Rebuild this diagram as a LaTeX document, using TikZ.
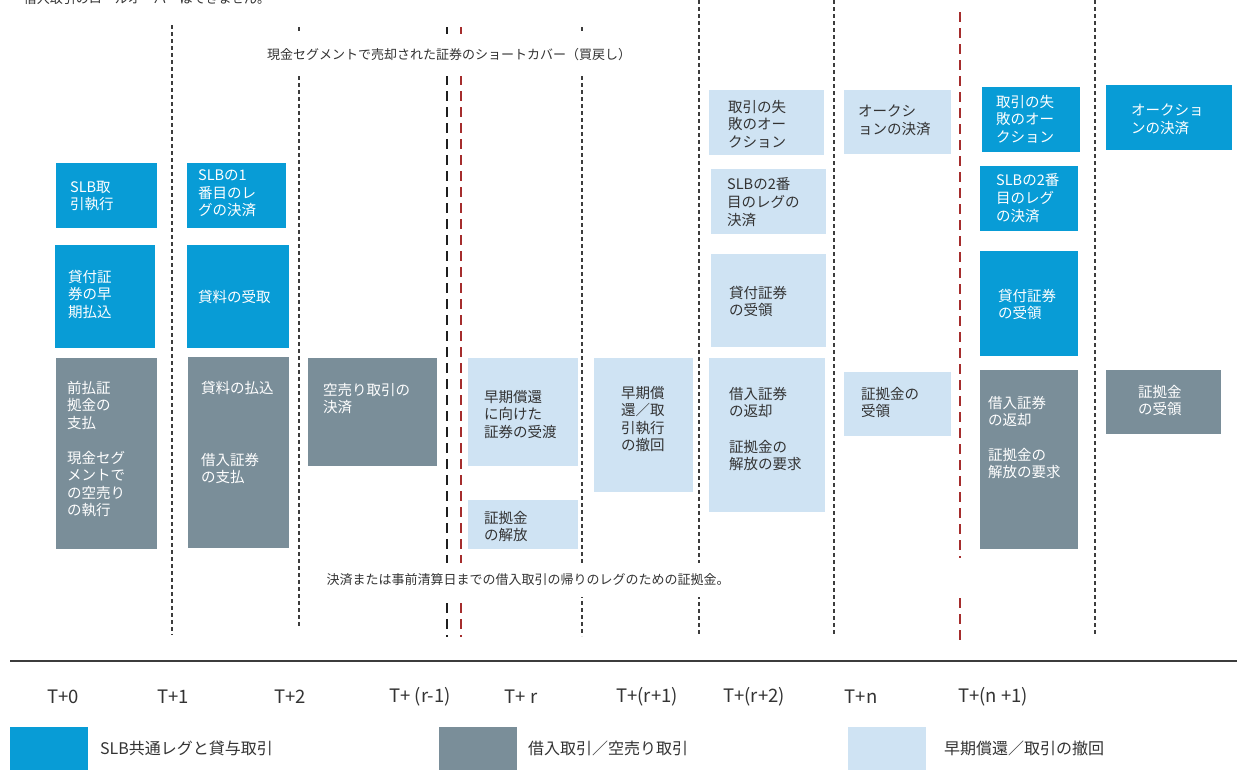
\documentclass[tikz,border=0pt]{standalone}
\usepackage{fontspec}
\setmainfont{Noto Sans CJK JP}
\definecolor{slbblue}{RGB}{8,156,214}
\definecolor{brgray}{RGB}{122,142,153}
\definecolor{ltblue}{RGB}{207,227,243}
\definecolor{redln}{RGB}{165,45,45}
\definecolor{txtdark}{RGB}{51,51,51}
\definecolor{lnc}{RGB}{60,60,60}
\newcommand{\mybx}[6]{\node[boxsty, fill=#2, minimum width={(#5-#3)*1pt}, minimum height={(#6-#4)*1pt}] (#1) at (#3,#4) {};}
\newcommand{\mytx}[5]{\node[txtsty, text=#4] (#1) at (#2,#3-7.3) {#5};}
\begin{document}
\begin{tikzpicture}[x=1pt,y=-1pt,
  boxsty/.style={anchor=north west, inner sep=0pt, outer sep=0pt, draw=none},
  txtsty/.style={anchor=north west, inner sep=0pt, align=left, font=\fontsize{14.5}{17.6}\selectfont},
  lbl/.style={inner sep=0pt, text=txtdark, font=\fontsize{13}{15}\selectfont},
  tlbl/.style={inner sep=0pt, text=txtdark, font=\fontsize{18.5}{22}\selectfont},
  leglbl/.style={anchor=west, inner sep=0pt, text=txtdark, font=\fontsize{16}{19}\selectfont},
  vthin/.style={draw=lnc, line width=1.1pt, dash pattern=on 4pt off 3pt},
  vblack/.style={draw=black!88, line width=2.6pt, dash pattern=on 10pt off 6pt},
  vred/.style={draw=redln, line width=2.2pt, dash pattern=on 10pt off 6pt}]
\useasboundingbox (0,0) rectangle (1239,769);
\clip (0,0) rectangle (1239,769);
\fill[white] (0,0) rectangle (1239,769);

% vertical separators
\draw[vthin] (172,25) -- (172,635);
\draw[vthin] (299,27) -- (299,628);
\draw[vblack] (447,27) -- (447,637);
\draw[vred] (461,27) -- (461,637);
\draw[vthin] (582,27) -- (582,636);
\draw[vthin] (699,0) -- (699,636);
\draw[vthin] (834,0) -- (834,636);
\draw[vred] (960,12) -- (960,558);
\draw[vred] (960,598) -- (960,641);
\draw[vthin] (1095,0) -- (1095,636);

% captions
\node[lbl] (topnote) at (147,-1) {借入取引のロールオーバーはできません。};
\node[lbl, fill=white, inner xsep=6pt, inner ysep=15pt] (shortcover) at (449,55) {現金セグメントで売却された証券のショートカバー（買戻し）};
\node[lbl, fill=white, inner xsep=6pt, inner ysep=11pt] (margin) at (528,580) {決済または事前清算日までの借入取引の帰りのレグのための証拠金。};

% T+0
\mybx{a1}{slbblue}{56}{163}{157}{228}
\mytx{ta1}{70}{188}{white}{SLB取\\引執行}
\mybx{a2}{slbblue}{55}{245}{155}{348}
\mytx{ta2}{68}{277}{white}{貸付証\\券の早\\期払込}
\mybx{a3}{brgray}{56}{358}{157}{549}
\mytx{ta3}{67}{388}{white}{前払証\\拠金の\\支払}
\mytx{ta3b}{67}{458}{white}{現金セグ\\メントで\\の空売り\\の執行}

% T+1
\mybx{b1}{slbblue}{187}{163}{286}{228}
\mytx{tb1}{198}{177}{white}{SLBの1\\番目のレ\\グの決済}
\mybx{b2}{slbblue}{187}{245}{289}{348}
\mytx{tb2}{198}{297}{white}{貸料の受取}
\mybx{b3}{brgray}{188}{357}{289}{548}
\mytx{tb3}{201}{388}{white}{貸料の払込}
\mytx{tb3b}{201}{460}{white}{借入証券\\の支払}

% T+2
\mybx{c1}{brgray}{308}{358}{437}{466}
\mytx{tc1}{323}{390}{white}{空売り取引の\\決済}

% T+r
\mybx{d1}{ltblue}{468}{358}{578}{466}
\mytx{td1}{484}{397}{txtdark}{早期償還\\に向けた\\証券の受渡}
\mybx{d2}{ltblue}{468}{500}{578}{549}
\mytx{td2}{484}{518}{txtdark}{証拠金\\の解放}

% T+(r+1)
\mybx{e1}{ltblue}{594}{358}{693}{492}
\mytx{te1}{621}{393}{txtdark}{早期償\\還／取\\引執行\\の撤回}

% T+(r+2)
\mybx{f1}{ltblue}{709}{90}{824}{155}
\mytx{tf1}{728}{107}{txtdark}{取引の失\\敗のオー\\クション}
\mybx{f2}{ltblue}{711}{169}{826}{234}
\mytx{tf2}{727}{185}{txtdark}{SLBの2番\\目のレグの\\決済}
\mybx{f3}{ltblue}{711}{254}{826}{347}
\mytx{tf3}{729}{293}{txtdark}{貸付証券\\の受領}
\mybx{f4}{ltblue}{709}{358}{825}{512}
\mytx{tf4}{729}{394}{txtdark}{借入証券\\の返却}
\mytx{tf4b}{729}{447}{txtdark}{証拠金の\\解放の要求}

% T+n
\mybx{g1}{ltblue}{844}{90}{951}{154}
\mytx{tg1}{858}{112}{txtdark}{オークシ\\ョンの決済}
\mybx{g2}{ltblue}{844}{372}{951}{436}
\mytx{tg2}{861}{394}{txtdark}{証拠金の\\受領}

% T+(n+1)
\mybx{h1}{slbblue}{982}{87}{1080}{152}
\mytx{th1}{996}{102}{white}{取引の失\\敗のオー\\クション}
\mybx{h2}{slbblue}{980}{166}{1078}{231}
\mytx{th2}{996}{181}{white}{SLBの2番\\目のレグ\\の決済}
\mybx{h3}{slbblue}{980}{251}{1078}{356}
\mytx{th3}{998}{296}{white}{貸付証券\\の受領}
\mybx{h4}{brgray}{980}{370}{1078}{549}
\mytx{th4}{988}{403}{white}{借入証券\\の返却}
\mytx{th4b}{988}{455}{white}{証拠金の\\解放の要求}

% last column
\mybx{k1}{slbblue}{1106}{85}{1232}{150}
\mytx{tk1}{1131}{111}{white}{オークショ\\ンの決済}
\mybx{k2}{brgray}{1106}{370}{1221}{434}
\mytx{tk2}{1138}{392}{white}{証拠金\\の受領}

% timeline
\draw[draw=lnc, line width=2pt] (10,661) -- (1237,661);
\node[tlbl] (t0) at (63,697) {T+0};
\node[tlbl] (t1) at (173,697) {T+1};
\node[tlbl] (t2) at (290,697) {T+2};
\node[tlbl] (t3) at (420,697) {T+ (r-1)};
\node[tlbl] (t4) at (521,697) {T+ r};
\node[tlbl] (t5) at (647,697) {T+(r+1)};
\node[tlbl] (t6) at (754,697) {T+(r+2)};
\node[tlbl] (t7) at (861,697) {T+n};
\node[tlbl] (t8) at (993,697) {T+(n +1)};

% legend
\mybx{l1}{slbblue}{10}{727}{88}{775}
\node[leglbl] (ll1) at (100,748) {SLB共通レグと貸与取引};
\mybx{l2}{brgray}{439}{727}{517}{775}
\node[leglbl] (ll2) at (528,748) {借入取引／空売り取引};
\mybx{l3}{ltblue}{848}{727}{926}{775}
\node[leglbl] (ll3) at (944,748) {早期償還／取引の撤回};
\end{tikzpicture}
\end{document}
